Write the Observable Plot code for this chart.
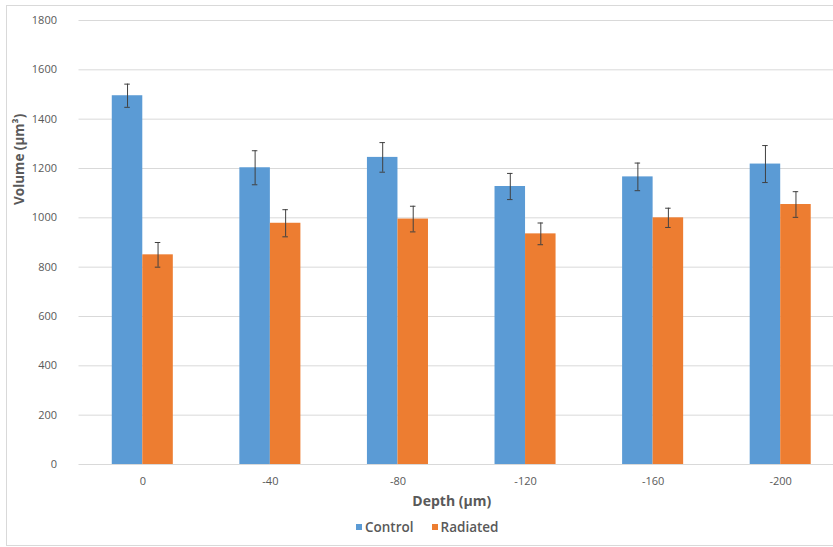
<!DOCTYPE html>
<html>
<head>
<meta charset="utf-8">
<script src="https://cdn.jsdelivr.net/npm/d3@7"></script>
<script src="https://cdn.jsdelivr.net/npm/@observablehq/plot@0.6"></script>
<style>
  html, body { margin: 0; padding: 0; background: #fff; overflow: hidden; }
  #wrap { position: relative; width: 833px; height: 547px; overflow: hidden; }
  #border { position: absolute; left: 6px; top: 5px; width: 900px; height: 539px; border: 1px solid #d9d9d9; border-right: none; }
  #chart { position: absolute; left: 0; top: 0; }
  #legend { position: absolute; top: 518px; left: 356px; display: flex; align-items: center;
    font-family: "Open Sans", sans-serif; font-size: 13.5px; font-weight: 600; color: #595959; }
  #legend .sw { display: inline-block; width: 6px; height: 6px; margin-right: 3px; }
  #legend .item { display: flex; align-items: center; margin-right: 18px; }
</style>
</head>
<body>
<div id="wrap">
  <div id="border"></div>
  <div id="chart"></div>
  <div id="legend"></div>
</div>
<script>
const depths = ["0", "-40", "-80", "-120", "-160", "-200"];
const seriesNames = ["Control", "Radiated"];
const seriesColors = ["#5B9BD5", "#ED7D31"];
const controlMean = [1495, 1203, 1245, 1127, 1166, 1218];
const controlErr = [47, 69, 60, 53, 56, 75];
const radiatedMean = [850, 978, 995, 935, 1000, 1054];
const radiatedErr = [50, 55, 52, 44, 39, 52];
const yTicks = [0, 200, 400, 600, 800, 1000, 1200, 1400, 1600, 1800];
const xTitle = "Depth (μm)";
const yTitle = "Volume (μm³)";

const control = depths.map((d, i) => ({depth: d, value: controlMean[i], lo: controlMean[i] - controlErr[i], hi: controlMean[i] + controlErr[i]}));
const radiated = depths.map((d, i) => ({depth: d, value: radiatedMean[i], lo: radiatedMean[i] - radiatedErr[i], hi: radiatedMean[i] + radiatedErr[i]}));

const W = 833, H = 510;
const mL = 78.5, mR = -11, mT = 20, mB = 46;
const xOpts = {type: "band", domain: depths, range: [mL, W - mR], paddingInner: 0.5216, paddingOuter: 0.2608, align: 0.5, round: false};
const bw = Plot.scale({x: xOpts}).bandwidth;
const half = bw / 2, cap = 2.75;
const errColor = "#404040";

const chart = Plot.plot({
  width: W, height: H,
  marginLeft: mL, marginRight: mR, marginTop: mT, marginBottom: mB,
  style: {fontFamily: "'Open Sans', sans-serif", fontSize: "11px", color: "#595959", background: "transparent"},
  x: xOpts,
  y: {domain: [0, 1800], range: [H - mB, mT]},
  marks: [
    Plot.gridY(yTicks, {stroke: "#d9d9d9", strokeOpacity: 1}),
    Plot.barY(control, {x: "depth", y: "value", fill: seriesColors[0], insetRight: half}),
    Plot.barY(radiated, {x: "depth", y: "value", fill: seriesColors[1], insetLeft: half}),
    Plot.ruleX(control, {x: "depth", y1: "lo", y2: "hi", dx: -bw / 4, stroke: errColor, strokeWidth: 1}),
    Plot.ruleX(radiated, {x: "depth", y1: "lo", y2: "hi", dx: bw / 4, stroke: errColor, strokeWidth: 1}),
    Plot.tickY(control, {x: "depth", y: "lo", insetLeft: bw / 4 - cap, insetRight: 3 * bw / 4 - cap, stroke: errColor}),
    Plot.tickY(control, {x: "depth", y: "hi", insetLeft: bw / 4 - cap, insetRight: 3 * bw / 4 - cap, stroke: errColor}),
    Plot.tickY(radiated, {x: "depth", y: "lo", insetLeft: 3 * bw / 4 - cap, insetRight: bw / 4 - cap, stroke: errColor}),
    Plot.tickY(radiated, {x: "depth", y: "hi", insetLeft: 3 * bw / 4 - cap, insetRight: bw / 4 - cap, stroke: errColor}),
    Plot.axisY({ticks: yTicks, tickFormat: d => String(d), tickSize: 0, tickPadding: 22, label: null}),
    Plot.axisX({tickSize: 0, tickPadding: 13, label: null}),
    Plot.text([yTitle], {text: d => d, frameAnchor: "left", dx: -59, dy: -37.5, rotate: -90, fontWeight: "bold", fontSize: 13.5, fill: "#595959"}),
    Plot.text([xTitle], {text: d => d, frameAnchor: "bottom", dx: -10, dy: 37.5, lineAnchor: "middle", fontWeight: "bold", fontSize: 14, fill: "#595959"})
  ]
});
document.getElementById("chart").appendChild(chart);

const legend = document.getElementById("legend");
seriesNames.forEach((name, i) => {
  const item = document.createElement("span");
  item.className = "item";
  const sw = document.createElement("span");
  sw.className = "sw";
  sw.style.background = seriesColors[i];
  item.appendChild(sw);
  item.appendChild(document.createTextNode(name));
  legend.appendChild(item);
});
</script>
</body>
</html>
